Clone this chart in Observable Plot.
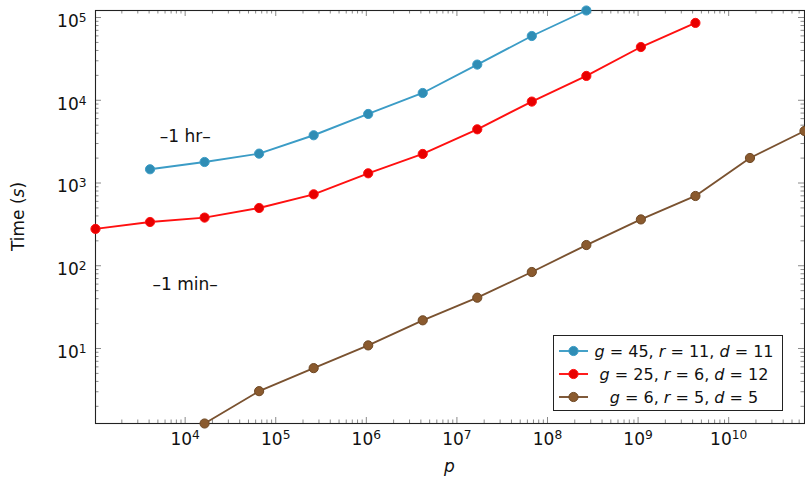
<!DOCTYPE html>
<html>
<head>
<meta charset="utf-8">
<script src="https://cdn.jsdelivr.net/npm/d3@7"></script>
<script src="https://cdn.jsdelivr.net/npm/@observablehq/plot@0.6"></script>
<style>
  body { margin: 0; background: #fff; }
  #wrap { position: relative; width: 805px; height: 480px; font-family: "DejaVu Sans", sans-serif; }
  #legend { position: absolute; left: 553px; top: 335px; }
</style>
</head>
<body>
<div id="wrap"></div>
<script>
// ---------- data ----------
const seriesNames = ["g45", "g25", "g6"];
const gVals = [45, 25, 6];
const rVals = [11, 6, 5];
const dVals = [11, 12, 5];
const lineColors = ["#3b9cc6", "#ff1010", "#7a5230"];
const dotFills = ["#2f8db5", "#e80000", "#8a5a2e"];
const dotStrokes = ["#3b9cc6", "#ff1010", "#6e4824"];

const pBlue = [4096, 16384, 65536, 262144, 1048576, 4194304, 16777216, 67108864, 268435456];
const tBlue = [1466, 1795, 2265, 3777, 6830, 12250, 27000, 59800, 121600];

const pRed = [1024, 4096, 16384, 65536, 262144, 1048576, 4194304, 16777216, 67108864, 268435456, 1073741824, 4294967296];
const tRed = [279, 338, 382, 499, 730, 1310, 2245, 4456, 9640, 19680, 44000, 86100];

const pBrown = [16384, 65536, 262144, 1048576, 4194304, 16777216, 67108864, 268435456, 1073741824, 4294967296, 17179869184, 68719476736];
const tBrown = [1.24, 3.05, 5.79, 10.9, 21.9, 41.1, 84, 178, 363, 697, 2006, 4254];

const xMajorTicks = [1e4, 1e5, 1e6, 1e7, 1e8, 1e9, 1e10];
const yMajorTicks = [1e1, 1e2, 1e3, 1e4, 1e5];

const notes = [
  {p: 1e4, t: 3600, label: "–1 hr–"},
  {p: 1e4, t: 60, label: "–1 min–"}
];

// ---------- build ----------
const allP = [pBlue, pRed, pBrown];
const allT = [tBlue, tRed, tBrown];
const series = seriesNames.map((s, i) => allP[i].map((p, j) => ({p, t: allT[i][j], s})));

const W = 805, H = 480, mL = 95, mR = 1, mT = 10, mB = 57;
const innerW = W - mL - mR, innerH = H - mT - mB;
const xDomain = [d3.min(pRed), d3.max(pBrown)];
const yDomain = [d3.min(tBrown), d3.max(tBlue)];

function minorTicks(lo, hi) {
  const out = [];
  for (let k = Math.floor(Math.log10(lo)); k <= Math.ceil(Math.log10(hi)); k++) {
    for (let m = 2; m <= 9; m++) {
      const v = m * Math.pow(10, k);
      if (v > lo && v < hi) out.push(v);
    }
  }
  return out;
}
const xMinor = minorTicks(xDomain[0], xDomain[1]);
const yMinor = minorTicks(yDomain[0], yDomain[1]);
const xMajor = xMajorTicks.filter(v => v >= xDomain[0] && v <= xDomain[1]);
const yMajor = yMajorTicks.filter(v => v >= yDomain[0] && v <= yDomain[1] * 1.0001);

const majLen = 6, minLen = 3.5;
const tickCol = "#8a8a8a";
const fmt = d => "10^" + Math.round(Math.log10(d));

const marks = [
  Plot.tickX(xMinor, {x: d => d, insetTop: innerH - minLen, stroke: tickCol}),
  Plot.tickX(xMinor, {x: d => d, insetBottom: innerH - minLen, stroke: tickCol}),
  Plot.tickX(xMajor, {x: d => d, insetTop: innerH - majLen, stroke: tickCol}),
  Plot.tickX(xMajor, {x: d => d, insetBottom: innerH - majLen, stroke: tickCol}),
  Plot.tickY(yMinor, {y: d => d, insetRight: innerW - minLen, stroke: tickCol}),
  Plot.tickY(yMinor, {y: d => d, insetLeft: innerW - minLen, stroke: tickCol}),
  Plot.tickY(yMajor, {y: d => d, insetRight: innerW - majLen, stroke: tickCol}),
  Plot.tickY(yMajor, {y: d => d, insetLeft: innerW - majLen, stroke: tickCol}),
  Plot.frame({stroke: "#222", strokeWidth: 1.1}),
  Plot.axisX(xMajor, {anchor: "bottom", tickSize: 0, tickPadding: 9, tickFormat: fmt, label: null, fontSize: 17}),
  Plot.axisY(yMajor, {anchor: "left", tickSize: 0, tickPadding: 9, tickFormat: fmt, label: null, fontSize: 17, dy: 4}),
  Plot.text(notes, {x: "p", y: "t", text: "label", fontSize: 17, fill: "#111"})
];
series.forEach((data, i) => {
  marks.push(Plot.line(data, {x: "p", y: "t", stroke: lineColors[i], strokeWidth: 1.9}));
  marks.push(Plot.dot(data, {x: "p", y: "t", r: 4.6, fill: dotFills[i], stroke: dotStrokes[i], strokeWidth: 1}));
});

const chart = Plot.plot({
  width: W, height: H,
  marginLeft: mL, marginRight: mR, marginTop: mT, marginBottom: mB,
  style: {fontFamily: '"DejaVu Sans", sans-serif', fontSize: "17px", background: "white", color: "#111", overflow: "visible"},
  x: {type: "log", domain: xDomain},
  y: {type: "log", domain: yDomain},
  marks
});

const wrap = document.getElementById("wrap");
wrap.appendChild(chart);

// superscript exponents in tick labels
d3.select(chart).selectAll("text").each(function () {
  const m = /^10\^(\d+)$/.exec(this.textContent);
  if (m) {
    const el = d3.select(this);
    el.text(null);
    el.append("tspan").text("10");
    el.append("tspan").attr("dy", "-0.42em").attr("font-size", "0.72em").text(m[1]);
  }
});

// axis titles
const svg = d3.select(chart);
const xt = svg.append("text").attr("x", mL + innerW / 2).attr("y", 472)
  .attr("text-anchor", "middle").attr("font-size", 17).attr("fill", "#111");
xt.append("tspan").attr("font-style", "italic").text("p");
const yt = svg.append("text").attr("transform", `translate(24,${mT + innerH / 2}) rotate(-90)`)
  .attr("text-anchor", "middle").attr("font-size", 17).attr("fill", "#111");
yt.append("tspan").text("Time (");
yt.append("tspan").attr("font-style", "italic").text("s");
yt.append("tspan").text(")");

// legend
const lw = 230, lh = 76;
const leg = d3.select(wrap).append("svg").attr("id", "legend")
  .attr("width", lw).attr("height", lh)
  .style("font-family", '"DejaVu Sans", sans-serif');
leg.append("rect").attr("x", 0.5).attr("y", 0.5).attr("width", lw - 1).attr("height", lh - 1)
  .attr("fill", "white").attr("stroke", "#222");
seriesNames.forEach((s, i) => {
  const cy = 16 + i * 23;
  leg.append("line").attr("x1", 6).attr("x2", 35).attr("y1", cy).attr("y2", cy)
    .attr("stroke", lineColors[i]).attr("stroke-width", 1.9);
  leg.append("circle").attr("cx", 20.5).attr("cy", cy).attr("r", 4.6)
    .attr("fill", dotFills[i]).attr("stroke", dotStrokes[i]);
  const t = leg.append("text").attr("x", 131).attr("y", cy + 6).attr("text-anchor", "middle")
    .attr("font-size", 16).attr("fill", "#111");
  t.append("tspan").attr("font-style", "italic").text("g");
  t.append("tspan").text(` = ${gVals[i]}, `);
  t.append("tspan").attr("font-style", "italic").text("r");
  t.append("tspan").text(` = ${rVals[i]}, `);
  t.append("tspan").attr("font-style", "italic").text("d");
  t.append("tspan").text(` = ${dVals[i]}`);
});
</script>
</body>
</html>
